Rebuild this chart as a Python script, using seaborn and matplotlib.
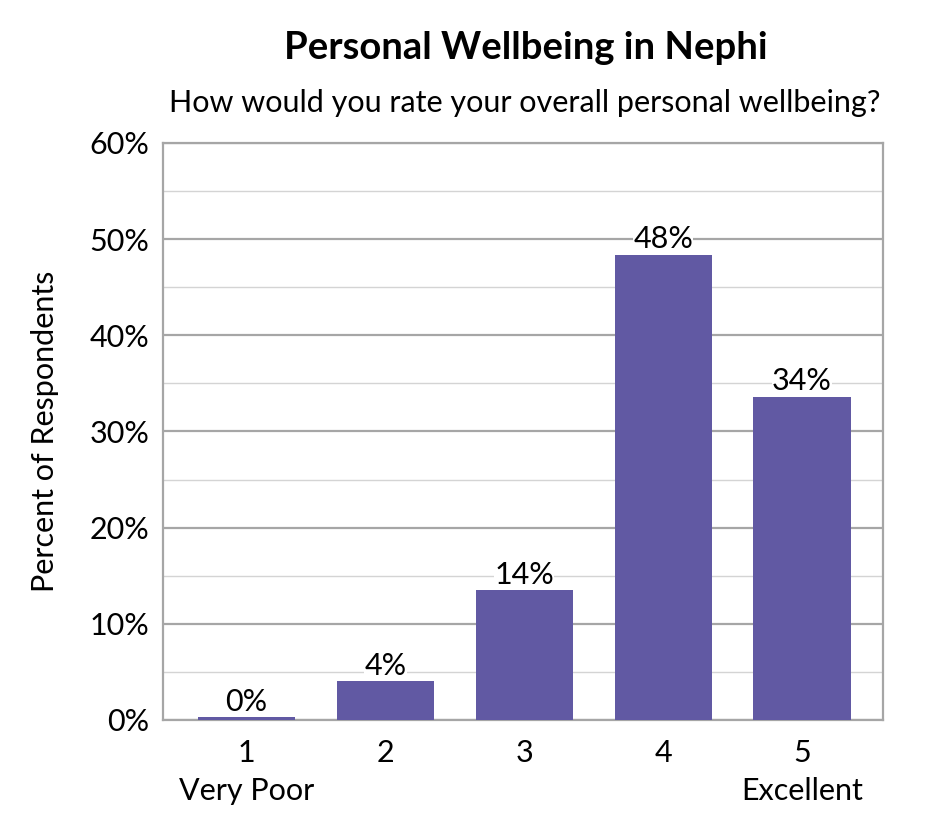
import matplotlib
matplotlib.use("Agg")
import matplotlib.pyplot as plt
import seaborn as sns
import pandas as pd
from matplotlib.ticker import MultipleLocator, FuncFormatter

categories = ["1\nVery Poor", "2", "3", "4", "5\nExcellent"]
values = [0.3, 4.0, 13.5, 48.4, 33.6]
labels = ["0%", "4%", "14%", "48%", "34%"]

sns.set_theme(style="white")
plt.rcParams['font.family'] = ['Lato', 'DejaVu Sans']
plt.rcParams['text.color'] = 'black'
plt.rcParams['axes.labelcolor'] = 'black'

df = pd.DataFrame({"cat": categories, "val": values})

fig = plt.figure(figsize=(9.45, 8.4), dpi=100)
ax = fig.add_axes([0.1725, 0.1429, 0.7615, 0.6869])

sns.barplot(data=df, x="cat", y="val", color="#6159A3", saturation=1, width=0.7,
            linewidth=0, ax=ax, zorder=3)

ax.set_xlim(-0.6, 4.58)
ax.set_ylim(0, 60)
ax.yaxis.set_major_locator(MultipleLocator(10))
ax.yaxis.set_minor_locator(MultipleLocator(5))
ax.yaxis.set_major_formatter(FuncFormatter(lambda v, p: f"{int(v)}%"))
ax.grid(axis="y", which="major", color="#A6A6A6", linewidth=1.6, zorder=0)
ax.grid(axis="y", which="minor", color="#D4D4D4", linewidth=1.0, zorder=0)
ax.set_axisbelow(True)
for s in ax.spines.values():
    s.set_visible(True)
    s.set_color("#A6A6A6")
    s.set_linewidth(1.6)

ax.tick_params(axis="both", which="both", length=0, labelsize=22, colors="black")
ax.tick_params(axis="y", pad=10)
ax.tick_params(axis="x", pad=14)
for t in ax.get_xticklabels():
    t.set_linespacing(1.4)
ax.set_xlabel("")
ax.set_ylabel("Percent of Respondents", fontsize=22, labelpad=22)

for i, (v, lab) in enumerate(zip(values, labels)):
    ax.text(i, v + 0.15, lab, ha="center", va="bottom", fontsize=22,
            bbox=dict(facecolor="white", edgecolor="none", pad=0.3), zorder=4)

fig.text(0.556, 0.943, "Personal Wellbeing in Nephi", ha="center", va="center",
         fontsize=27.5, fontweight="bold")
fig.text(0.555, 0.877, "How would you rate your overall personal wellbeing?", ha="center",
         va="center", fontsize=22)

fig.savefig("out.png", dpi=100)
